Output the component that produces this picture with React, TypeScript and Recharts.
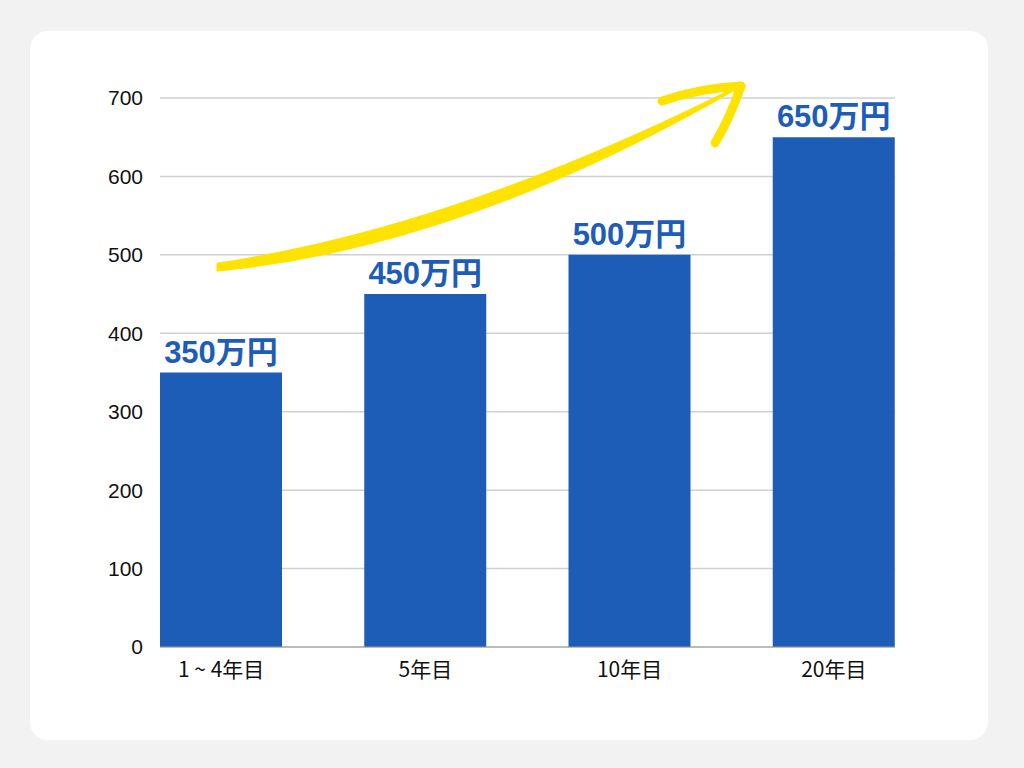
import { Bar, BarChart, CartesianGrid, LabelList, XAxis, YAxis } from 'recharts';

const categories = ['1 ~ 4年目', '5年目', '10年目', '20年目'];
const salaries = [350, 450, 500, 650];
const yTicks = [0, 100, 200, 300, 400, 500, 600, 700];

const data = categories.map((name, i) => ({ name, value: salaries[i] }));

const BLUE = '#1d5db8';
const YELLOW = '#ffe300';

// 手描き風の黄色い矢印（装飾）
function TrendArrow() {
  return (
    <svg
      width={1024}
      height={768}
      style={{ position: 'absolute', left: 0, top: 0, pointerEvents: 'none' }}
    >
      <path
        d="M218,264 Q458,228 740,86 Q464,246 218,270 Z"
        fill={YELLOW}
        stroke={YELLOW}
        strokeWidth={3}
        strokeLinejoin="round"
      />
      <path
        d="M741,86 Q700,88 662,101"
        fill="none"
        stroke={YELLOW}
        strokeWidth={9}
        strokeLinecap="round"
      />
      <path
        d="M741,86 Q730,118 715,143"
        fill="none"
        stroke={YELLOW}
        strokeWidth={9}
        strokeLinecap="round"
      />
    </svg>
  );
}

export default function App() {
  return (
    <div
      style={{
        position: 'absolute',
        left: 0,
        top: 0,
        width: 1024,
        height: 768,
        background: '#f2f2f2',
        overflow: 'hidden',
      }}
    >
      <div
        style={{
          position: 'absolute',
          left: 30,
          top: 31,
          width: 958,
          height: 709,
          background: '#ffffff',
          borderRadius: 18,
        }}
      />
      <div style={{ position: 'absolute', left: 0, top: 0 }}>
        <BarChart
          width={1024}
          height={768}
          data={data}
          margin={{ top: 98, right: 129, bottom: 81, left: 60 }}
        >
          <CartesianGrid vertical={false} stroke="#d0d0d0" strokeWidth={1.5} />
          <XAxis
            dataKey="name"
            height={40}
            padding={{ left: -41, right: -41 }}
            tickLine={false}
            tickMargin={9}
            axisLine={{ stroke: '#999999' }}
            tick={{ fontSize: 21, fill: '#111111', fontFamily: '"Noto Sans CJK JP", sans-serif' }}
            interval={0}
          />
          <YAxis
            width={100}
            domain={[0, 700]}
            ticks={yTicks}
            tickLine={false}
            axisLine={false}
            tickMargin={11}
            tick={{ fontSize: 21, fill: '#111111', fontFamily: '"Liberation Sans", Arial, sans-serif' }}
          />
          <Bar dataKey="value" fill={BLUE} barSize={122} isAnimationActive={false}>
            <LabelList
              dataKey="value"
              position="top"
              offset={10}
              formatter={(v: number) => `${v}万円`}
              style={{
                fontSize: 31,
                fontWeight: 700,
                fill: BLUE,
                fontFamily: '"Liberation Sans", "Noto Sans CJK JP", sans-serif',
              }}
            />
          </Bar>
        </BarChart>
      </div>
      <TrendArrow />
    </div>
  );
}
